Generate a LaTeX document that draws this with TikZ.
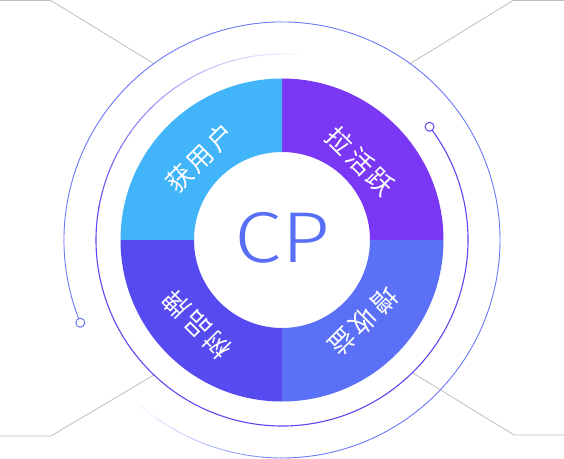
\documentclass[tikz,border=0pt]{standalone}
\usepackage{fontspec}
\usepackage{xcolor}
\usepackage{tikz}
\newfontfamily\cjkfont{Noto Sans CJK SC}[LetterSpace=12]
\newfontfamily\cpfont{Fira Sans Light}[FakeStretch=1.18]
\definecolor{cpsky}{RGB}{66,180,250}
\definecolor{cpviolet}{RGB}{122,56,245}
\definecolor{cpindigo}{RGB}{85,75,240}
\definecolor{cpperiwinkle}{RGB}{90,112,247}
\definecolor{cptext}{RGB}{88,110,245}
\definecolor{innerline}{RGB}{92,70,240}
\definecolor{outerline}{RGB}{105,120,245}
\definecolor{leadgray}{RGB}{190,190,190}

\begin{document}
\begin{tikzpicture}[x=1pt,y=1pt,
  seglabel/.style={text=white,font=\cjkfont\fontsize{26}{26}\selectfont,inner sep=0pt},
  lead/.style={draw=leadgray,line width=0.8pt},
  knob/.style={circle,draw=#1,fill=white,line width=1pt,minimum size=9pt,inner sep=0pt}]

\useasboundingbox (-282,-218) rectangle (282,240);

% leader lines
\coordinate (tlend) at (126:218);
\coordinate (trend) at (54:218);
\coordinate (blend) at (226.5:186);
\coordinate (brend) at (-45.5:186);
\draw[lead] (-282,239.5) -- (-231,239.5) -- (tlend);
\draw[lead] (282,239.5) -- (231,239.5) -- (trend);
\draw[lead] (-282,-196) -- (-231,-196) -- (blend);
\draw[lead] (282,-195) -- (232,-195) -- (brend);

% the four quarters
\foreach \s/\c in {0/cpviolet,90/cpsky,180/cpindigo,270/cpperiwinkle}
  \fill[\c] (\s:161.5) arc[start angle=\s,delta angle=90,radius=161.5pt]
    -- (\s+90:88) arc[start angle=\s+90,delta angle=-90,radius=88pt] -- cycle;

% inner ring, fading out at the top
\draw[innerline,line width=1.1pt] (37:186) arc[start angle=37,end angle=-185,radius=186pt];
\foreach \i [evaluate=\i as \p using 100-5.5*\i, evaluate=\i as \a using -185-5*\i] in {0,...,17}
  \draw[color=innerline!\p!white,line width=1.1pt] (\a:186) arc[start angle=\a,delta angle=-5.3,radius=186pt];

% outer ring, fading out at the bottom
\draw[outerline,line width=0.9pt] (202:218) arc[start angle=202,end angle=-85,radius=218pt];
\foreach \i [evaluate=\i as \p using 100-11*\i, evaluate=\i as \a using -85-5*\i] in {0,...,8}
  \draw[color=outerline!\p!white,line width=0.9pt] (\a:218) arc[start angle=\a,delta angle=-5.3,radius=218pt];

\node[knob=innerline] (innerknob) at (37.5:186) {};
\node[knob=outerline] (outerknob) at (202.3:218) {};

\node[text=cptext,font=\cpfont\fontsize{72}{72}\selectfont] (cp) at (0.5,2) {CP};

\node[seglabel,rotate=45] (huo) at (135:116) {获用户};
\node[seglabel,rotate=-45] (la) at (45:111) {拉活跃};
\node[seglabel,rotate=135] (shu) at (225:120) {树品牌};
\node[seglabel,rotate=-135] (zeng) at (-45:115) {增收益};

\end{tikzpicture}
\end{document}
